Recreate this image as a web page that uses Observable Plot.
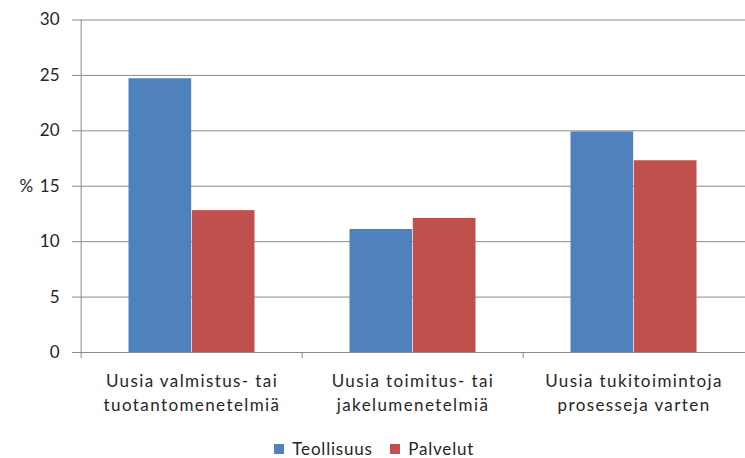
<!DOCTYPE html>
<html>
<head>
<meta charset="utf-8">
<script src="https://cdn.jsdelivr.net/npm/d3@7"></script>
<script src="https://cdn.jsdelivr.net/npm/@observablehq/plot@0.6"></script>
<style>
  html, body { margin: 0; padding: 0; background: #fff; overflow: hidden; }
  #chart { width: 745px; }
  #chart g[aria-label="x-axis tick label"] text { letter-spacing: 1.4px; }
</style>
</head>
<body>
<div id="chart"></div>
<script>
const categories = [
  "Uusia valmistus- tai\ntuotantomenetelmiä",
  "Uusia toimitus- tai\njakelumenetelmiä",
  "Uusia tukitoimintoja\nprosesseja varten"
];
const series = ["Teollisuus", "Palvelut"];
const teollisuus = [24.7, 11.1, 19.9];
const palvelut = [12.8, 12.1, 17.3];
const yTicks = [0, 5, 10, 15, 20, 25, 30];
const colors = ["#4F81BD", "#C0504D"];

const rows = categories.flatMap((c, i) => [
  {category: c, series: series[0], value: teollisuus[i]},
  {category: c, series: series[1], value: palvelut[i]}
]);

const W = 745, H = 426, mL = 80, mR = 0, mT = 19.5, mB = 74;
const step = (W - mL - mR) / categories.length;
const gap = 1.5;                       // Excel gap width 150%
const barW = step / (series.length + gap);
const outer = barW * gap / 2;
const axisColor = "#8a8a8a";
const textColor = "#262626";
const font = "Lato, 'Open Sans', sans-serif";

const plot = Plot.plot({
  width: W, height: H,
  marginLeft: mL, marginRight: mR, marginTop: mT, marginBottom: mB,
  style: {fontFamily: font, fontSize: "17px", color: textColor, background: "#fff"},
  x: {type: "band", domain: categories, padding: 0, label: null},
  y: {domain: [0, 30], label: null},
  color: {domain: series, range: colors},
  marks: [
    Plot.gridY(yTicks, {stroke: axisColor, strokeOpacity: 1}),
    Plot.barY(rows.filter(d => d.series === series[0]), {
      x: "category", y: "value", fill: "series",
      insetLeft: outer, insetRight: outer + barW
    }),
    Plot.barY(rows.filter(d => d.series === series[1]), {
      x: "category", y: "value", fill: "series",
      insetLeft: outer + barW, insetRight: outer
    }),
    Plot.ruleY([0], {stroke: axisColor}),
    Plot.ruleX([categories[0]], {x: d => d, y1: 0, y2: 30, dx: -step / 2, stroke: axisColor}),
    Plot.axisX(categories, {tickSize: 6, dx: -step / 2, tickFormat: () => "", stroke: axisColor}),
    Plot.axisX({tickSize: 0, tickPadding: 17, lineHeight: 1.42, fontSize: 17, fill: textColor}),
    Plot.axisY(yTicks, {tickSize: 8, tickPadding: 13, fontSize: 17, stroke: axisColor, fill: textColor}),
    Plot.text(["%"], {frameAnchor: "left", dx: -61, fontSize: 17, fill: textColor})
  ]
});

const legend = Plot.legend({
  color: {domain: series, range: colors},
  legend: "swatches",
  swatchSize: 10
});
legend.style.fontFamily = font;
legend.style.fontSize = "17px";
legend.style.letterSpacing = "0.8px";
legend.style.color = textColor;
legend.style.justifyContent = "center";
legend.style.minHeight = "0";
legend.style.lineHeight = "17px";
legend.style.marginTop = "14px";
legend.style.marginBottom = "0";
legend.style.paddingLeft = "20px";

const el = document.getElementById("chart");
el.appendChild(plot);
el.appendChild(legend);
</script>
</body>
</html>
